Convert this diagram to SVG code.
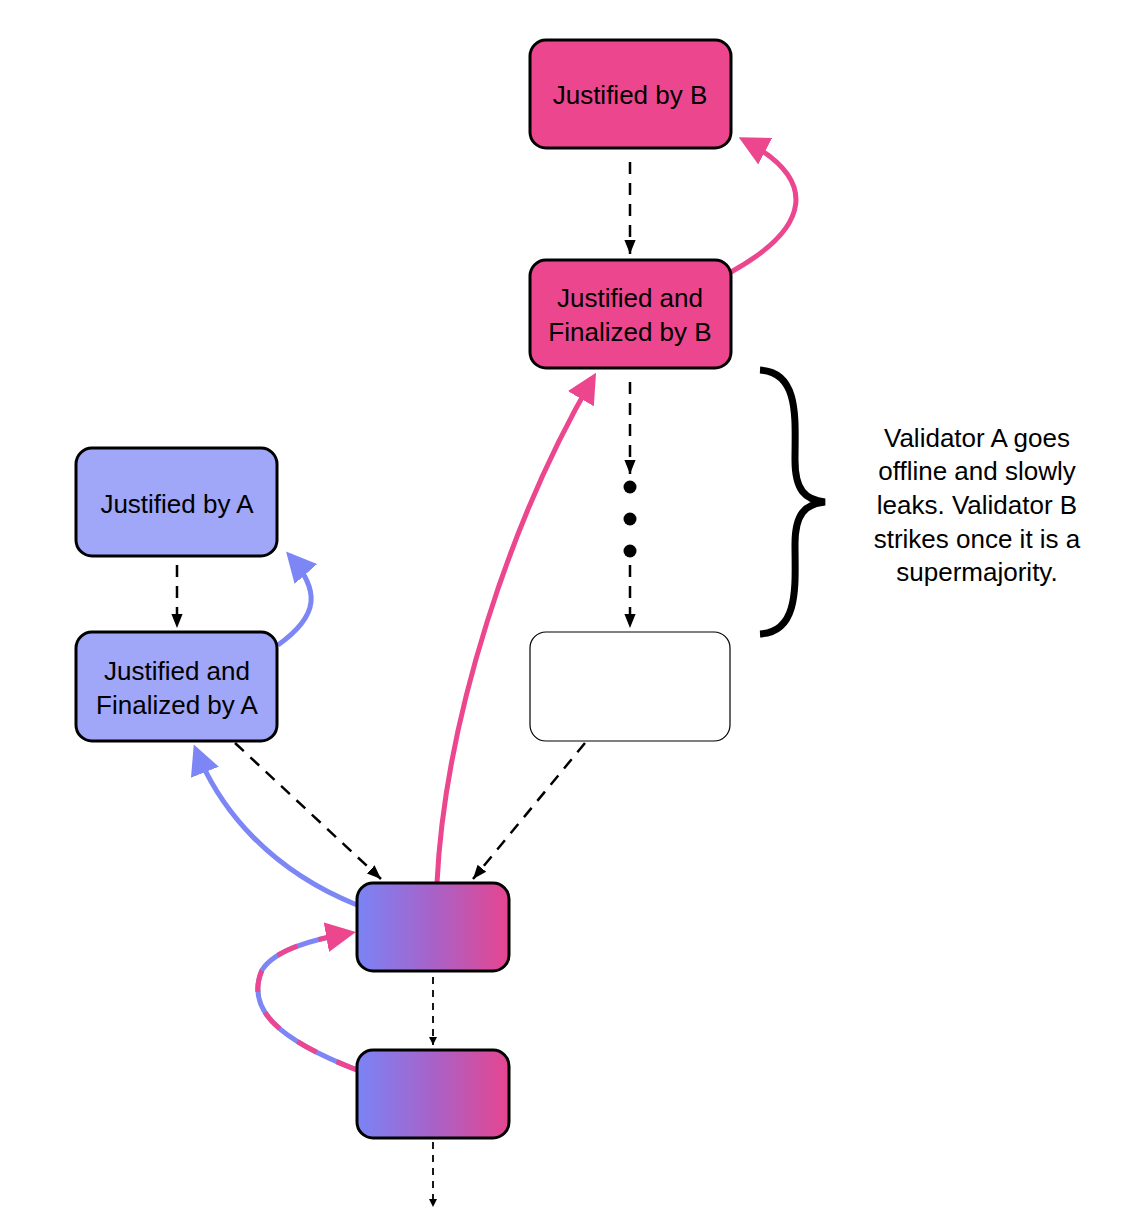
<svg xmlns="http://www.w3.org/2000/svg" width="1148" height="1228" viewBox="0 0 1148 1228">
<style>
.n{stroke:#000;stroke-width:3}
.t{font-family:"Liberation Sans",Arial,sans-serif;font-size:26px;text-anchor:middle;fill:#000}
.d{fill:none;stroke:#000;stroke-width:2.5;stroke-dasharray:12 9}
.dt{fill:none;stroke:#000;stroke-width:1.8;stroke-dasharray:7 6}
.p{fill:none;stroke:#EC468E;stroke-width:5}
.b{fill:none;stroke:#7D86F5;stroke-width:5}
</style>
<defs>
<linearGradient id="g" x1="0" x2="1" y1="0" y2="0"><stop offset="0" stop-color="#7A84F6"/><stop offset="0.5" stop-color="#A862C8"/><stop offset="1" stop-color="#E6458F"/></linearGradient>
<marker id="ak" viewBox="0 0 10 10" refX="10" refY="5" markerWidth="8" markerHeight="8" markerUnits="userSpaceOnUse" orient="auto"><path d="M0,0L10,5L0,10z" fill="#000"/></marker>
<marker id="ak2" viewBox="0 0 10 10" refX="10" refY="5" markerWidth="14" markerHeight="14" markerUnits="userSpaceOnUse" orient="auto"><path d="M0,1L10,5L0,9z" fill="#000"/></marker>
<marker id="ap" viewBox="0 0 10 10" refX="8" refY="5" markerWidth="6" markerHeight="6" orient="auto"><path d="M0,0L10,5L0,10z" fill="#EC468E"/></marker>
<marker id="ab" viewBox="0 0 10 10" refX="8" refY="5" markerWidth="6" markerHeight="6" orient="auto"><path d="M0,0L10,5L0,10z" fill="#7D86F5"/></marker>
</defs>
<g id="connectors">
<path class="d" d="M630,162V254" marker-end="url(#ak2)"/>
<path class="d" d="M630,382V474" marker-end="url(#ak2)"/>
<path class="d" d="M630,565V628" marker-end="url(#ak2)"/>
<circle cx="630" cy="487" r="6.5"/><circle cx="630" cy="519" r="6.5"/><circle cx="630" cy="551" r="6.5"/>
<path class="d" d="M177,565V628" marker-end="url(#ak2)"/>
<path class="d" d="M235,743L381,879" marker-end="url(#ak2)"/>
<path class="d" d="M585,743L473,879" marker-end="url(#ak2)"/>
<path class="dt" d="M433,977V1045" marker-end="url(#ak)"/>
<path class="dt" d="M433,1142V1207" marker-end="url(#ak)"/>
<path class="p" d="M731,272C810,228 820,180 744,140" marker-end="url(#ap)"/>
<path class="b" d="M278,645C320,615 320,590 290,556" marker-end="url(#ab)"/>
<path class="b" d="M357,905C270,870 220,810 196,750" marker-end="url(#ab)"/>
<path class="p" d="M437,883C445,720 510,520 593,378" marker-end="url(#ap)"/>
<path class="b" d="M357,1070C280,1040 245,1010 262,970C275,950 310,940 350,933"/>
<path d="M357,1070C280,1040 245,1010 262,970C275,950 310,940 350,933" fill="none" stroke="#EC468E" stroke-width="5" stroke-dasharray="22 22" marker-end="url(#ap)"/>
<path d="M760,370C800,372 795,420 795,460C795,490 805,500 825,502C805,504 795,514 795,544C795,584 800,632 760,634" fill="none" stroke="#000" stroke-width="7"/>
</g>
<g id="nB1"><rect class="n" x="530" y="40" width="201" height="108" rx="16" fill="#EC468E"/><text class="t" x="630" y="104">Justified by B</text></g>
<g id="nB2"><rect class="n" x="530" y="260" width="201" height="108" rx="16" fill="#EC468E"/><text class="t" x="630" y="307">Justified and</text><text class="t" x="630" y="341">Finalized by B</text></g>
<g id="nW"><rect x="530" y="632" width="200" height="109" rx="16" fill="#fff" stroke="#000" stroke-width="1.2"/></g>
<g id="nA1"><rect class="n" x="76" y="448" width="201" height="108" rx="16" fill="#A0A6F8"/><text class="t" x="177" y="513">Justified by A</text></g>
<g id="nA2"><rect class="n" x="76" y="632" width="201" height="109" rx="16" fill="#A0A6F8"/><text class="t" x="177" y="680">Justified and</text><text class="t" x="177" y="714">Finalized by A</text></g>
<g id="nG1"><rect class="n" x="357" y="883" width="152" height="88" rx="16" fill="url(#g)"/></g>
<g id="nG2"><rect class="n" x="357" y="1050" width="152" height="88" rx="16" fill="url(#g)"/></g>
<g id="label"><text class="t" x="977" y="447">Validator A goes</text><text class="t" x="977" y="480">offline and slowly</text><text class="t" x="977" y="514">leaks. Validator B</text><text class="t" x="977" y="548">strikes once it is a</text><text class="t" x="977" y="581">supermajority.</text></g>
</svg>
